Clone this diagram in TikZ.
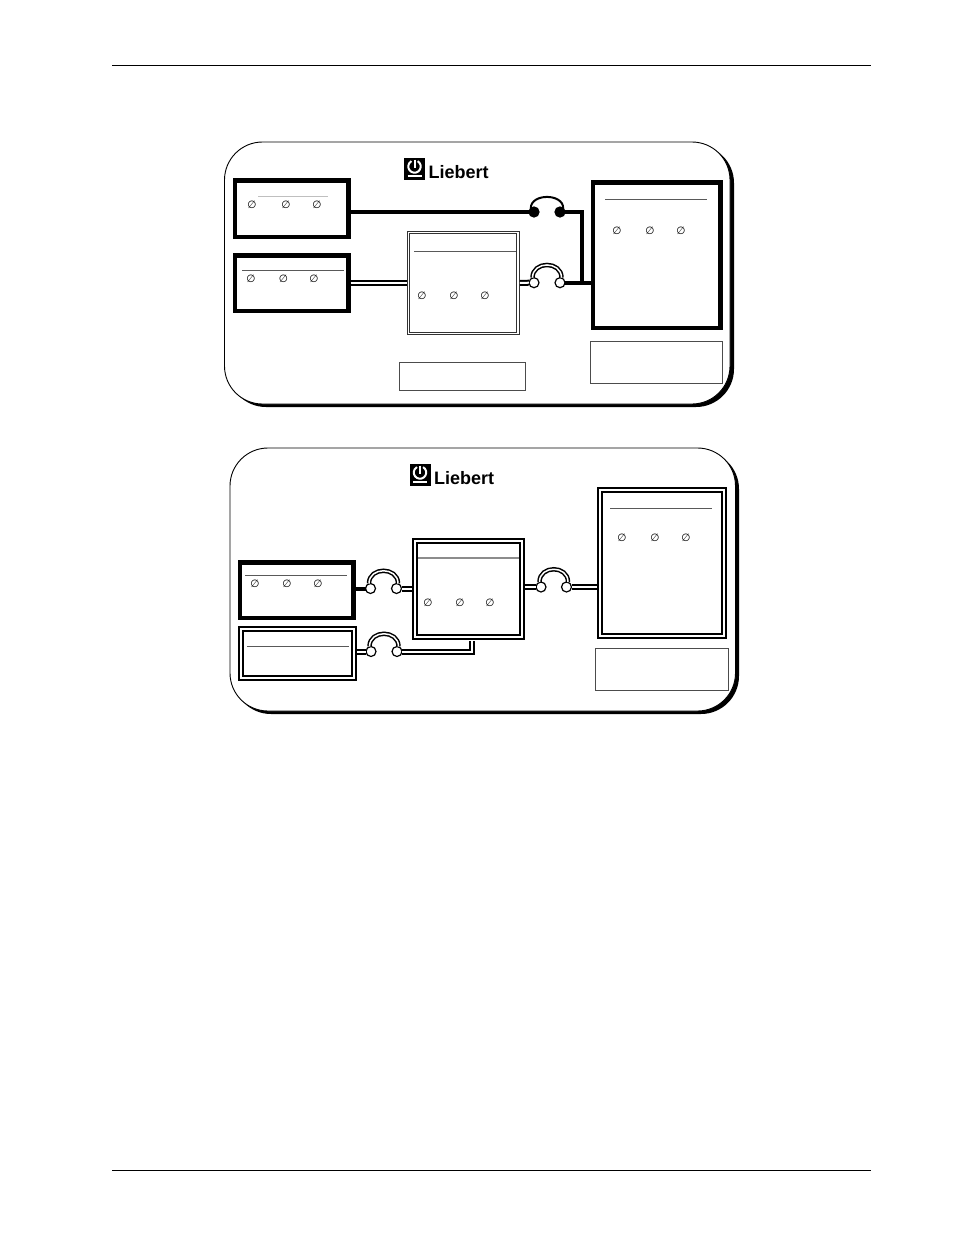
\documentclass[tikz,border=0pt]{standalone}
\usepackage{fontspec}
\newfontfamily\logofont{Liberation Sans}
\newfontfamily\symfont{DejaVu Sans}
\tikzset{
  panelface/.style={draw, fill=white, line width=0.9pt, rounded corners=38pt},
  panelshadow/.style={fill=black, rounded corners=38pt},
  thickbox/.style={draw, fill=white, line width=4.5pt, inner sep=0pt, outer sep=2.25pt},
  dblbox/.style={draw, line width=2pt, double, double distance=2pt, inner sep=0pt, outer sep=3pt},
  dblthin/.style={draw, black!80, line width=1pt, double, double distance=1.5pt, inner sep=0pt, outer sep=1.75pt},
  thinbox/.style={draw, black!70, line width=0.9pt, inner sep=0pt},
  phase/.style={inner sep=0pt, font=\symfont\fontsize{10.5}{10.5}\selectfont},
  rule/.style={black!65, line width=0.9pt},
  brk/.style={circle, draw, fill=white, line width=1.2pt, minimum size=10pt, inner sep=0pt, outer sep=0pt},
  brkon/.style={circle, draw, fill=black, line width=1.2pt, minimum size=10pt, inner sep=0pt, outer sep=0pt},
  heavy/.style={line width=4pt},
  dbl/.style={line width=2pt, double, double distance=2pt},
  arcdbl/.style={line width=1.5pt, double, double distance=1.5pt},
  span/.style={line width=2pt},
  logotext/.style={inner sep=0pt, anchor=base west, font=\logofont\bfseries\fontsize{18}{18}\selectfont}
}
\begin{document}
\begin{tikzpicture}[x=1pt,y=-1pt]
\useasboundingbox (0,0) rectangle (954,1235);
% page rules
\draw [line width=0.8pt] (112,65)--(871,65);
\draw [line width=0.8pt] (112,1170)--(871,1170);

% upper panel
\fill [panelshadow] (228,145) rectangle (734,407);
\draw [panelface] (224.5,142) rectangle (730,404);
\fill (404,158) rectangle (425,180);
\draw [white, line width=2pt] (414.5,166.5)+(-60:6.2) arc (-60:240:6.2);
\draw [white, line width=2pt] (414.5,159.5)--(414.5,168);
\draw [white, line width=1.6pt] (407.5,175.8)--(421.5,175.8);
\node [logotext] (logoa) at (428.5,178) {Liebert};

\node [thickbox, minimum width=113.5pt, minimum height=56.5pt] (mainsa) at (291.7,208.5) {};
\node [thickbox, minimum width=113.5pt, minimum height=55.5pt] (bypassa) at (291.7,283) {};
\node [dblthin, minimum width=109.8pt, minimum height=100.8pt] (upsa) at (463.3,283) {};
\node [thickbox, minimum width=127.5pt, minimum height=145.5pt] (loada) at (656.7,255) {};
\node [thinbox, minimum width=126.5pt, minimum height=28pt] (notea) at (462.2,376) {};
\node [thinbox, minimum width=132pt, minimum height=42pt] (noteb) at (656,362) {};

\draw [rule, black!25] (258,196.5)--(328,196.5);
\draw [rule] (242,270.5)--(344,270.5);
\draw [rule] (414,251)--(516,251);
\draw [rule] (605,199)--(707,199);

\foreach \xx in {252,286,317} \node [phase] (pa\xx) at (\xx,205) {∅};
\foreach \xx in {251,283.5,314} \node [phase] (pb\xx) at (\xx,279) {∅};
\foreach \xx in {422,454,485} \node [phase] (pc\xx) at (\xx,296) {∅};
\foreach \xx in {617,650,681} \node [phase] (pd\xx) at (\xx,231) {∅};

\node [brkon] (sbsl) at (534,212) {};
\node [brkon] (sbsr) at (560,212) {};
\node [brk] (outl) at (534,282.7) {};
\node [brk] (outr) at (560,282.7) {};
\coordinate (joina) at (581.5,282.7);

\draw [heavy] (mainsa.east |- sbsl.west)--(sbsl.west);
\draw [heavy] (sbsr.east) -| (joina);
\draw [heavy] (outr.east)--(loada.west |- outr.east);
\draw [dbl] (bypassa.east)--(upsa.west);
\draw [dbl] (upsa.east)--(outl.west);
\draw [span] (sbsl.130) .. controls +(0,-15) and +(0,-15) .. (sbsr.50);
\draw [arcdbl] ([xshift=-1.5pt]outl.north) .. controls +(0,-17) and +(0,-17) .. ([xshift=1.5pt]outr.north);

% lower panel
\fill [panelshadow] (233,451) rectangle (739,714);
\draw [panelface] (230,448) rectangle (735.5,711);
\fill (409.5,464) rectangle (430.5,486);
\draw [white, line width=2pt] (420,472.5)+(-60:6.2) arc (-60:240:6.2);
\draw [white, line width=2pt] (420,465.5)--(420,474);
\draw [white, line width=1.6pt] (413,481.8)--(427,481.8);
\node [logotext] (logob) at (434,484) {Liebert};

\node [thickbox, minimum width=113.5pt, minimum height=55.5pt] (mainsb) at (296.7,590) {};
\node [dblbox, minimum width=113.5pt, minimum height=48.7pt] (genb) at (297.7,653.3) {};
\node [dblbox, minimum width=106.7pt, minimum height=95.7pt] (upsb) at (468.6,589.2) {};
\node [dblbox, minimum width=123.7pt, minimum height=145.7pt] (loadb) at (661.8,563.2) {};
\node [thinbox, minimum width=132.5pt, minimum height=42pt] (notec) at (661.7,669) {};

\draw [rule] (245,575.5)--(347,575.5);
\draw [rule] (247,646.5)--(349,646.5);
\draw [rule, black!45, line width=1.5pt] (418,558)--(519,558);
\draw [rule] (610,508)--(712,508);

\foreach \xx in {255,287,318} \node [phase] (pe\xx) at (\xx,584) {∅};
\foreach \xx in {428,460,490} \node [phase] (pf\xx) at (\xx,602.5) {∅};
\foreach \xx in {622,655,686} \node [phase] (pg\xx) at (\xx,537.5) {∅};

\node [brk] (inl) at (370.5,588.5) {};
\node [brk] (inr) at (396.5,588.5) {};
\node [brk] (genl) at (371,651.5) {};
\node [brk] (genr) at (397,651.5) {};
\node [brk] (outbl) at (541,587) {};
\node [brk] (outbr) at (566.5,587) {};
\coordinate (upsfoot) at (471.5,640.5);

\draw [heavy] (mainsb.east |- inl.west)--(inl.west);
\draw [dbl] (inr.east)--(upsb.west |- inr.east);
\draw [dbl] (genb.east |- genl.west)--(genl.west);
\draw [dbl] (genr.east) -| (upsfoot);
\draw [dbl] (upsb.east |- outbl.west)--(outbl.west);
\draw [dbl] (outbr.east)--(loadb.west |- outbr.east);
\draw [arcdbl] ([xshift=-1.5pt]inl.north) .. controls +(0,-17) and +(0,-17) .. ([xshift=1.5pt]inr.north);
\draw [arcdbl] ([xshift=-1.5pt]genl.north) .. controls +(0,-17) and +(0,-17) .. ([xshift=1.5pt]genr.north);
\draw [arcdbl] ([xshift=-1.5pt]outbl.north) .. controls +(0,-17) and +(0,-17) .. ([xshift=1.5pt]outbr.north);
\end{tikzpicture}
\end{document}
